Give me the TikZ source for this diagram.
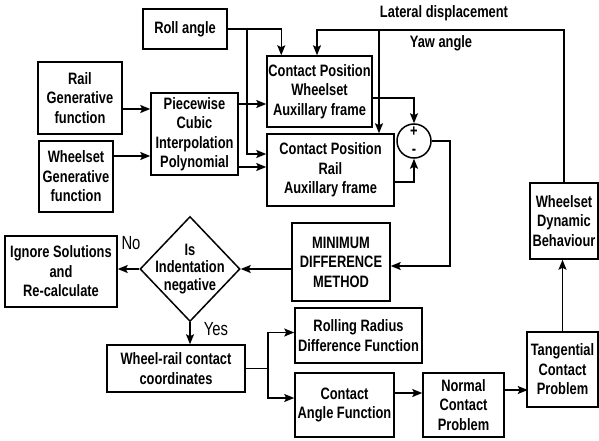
\documentclass[tikz,border=0pt]{standalone}
\usepackage{fontspec}
\setmainfont{Liberation Sans}[FakeStretch=0.78]
\usetikzlibrary{shapes.geometric, arrows.meta, calc}
\newcommand{\boxfont}{\fontsize{16.5}{19.5}\selectfont\bfseries}
\tikzset{
  block/.style={
    rectangle, draw=black, line width=1.5pt,
    inner sep=1pt, align=center, font=\boxfont
  },
  decision/.style={
    diamond, draw=black, line width=1.5pt, inner sep=-14pt,
    minimum width=100pt, minimum height=105pt,
    align=center, font=\fontsize{16.5}{17.5}\selectfont\bfseries
  },
  summer/.style={circle, draw=black, line width=1.5pt, minimum size=34pt, inner sep=0pt},
  signal/.style={font=\boxfont},
  sign/.style={font=\boxfont, inner sep=0pt},
  answer/.style={font=\fontsize{19}{22}\selectfont},
  arrow/.style={line width=1.5pt, -{Stealth[length=10pt, width=8pt, inset=2pt]}, color=black},
}

\begin{document}
\begin{tikzpicture}[x=1pt, y=-1pt]
  \useasboundingbox (0,0) rectangle (599,441);

  \node (roll)     [block, minimum width=84pt,  minimum height=40pt] at (185,29)    {Roll angle};
  \node (railgen)  [block, minimum width=84pt,  minimum height=72pt] at (80,98)     {Rail\\Generative\\function};
  \node (wheelgen) [block, minimum width=74pt,  minimum height=71pt] at (76,176.5)  {Wheelset\\Generative\\function};
  \node (pcip)     [block, minimum width=87pt,  minimum height=82pt] at (194.5,134) {Piecewise\\Cubic\\Interpolation\\Polynomial};
  \node (cpw)      [block, minimum width=105pt, minimum height=71pt] at (319.5,91.5) {Contact Position\\Wheelset\\Auxillary frame};
  \node (cpr)      [block, minimum width=127pt, minimum height=72pt] at (330.5,170) {Contact Position\\Rail\\Auxillary frame};
  \node (sum)      [summer] at (414,141) {};
  \node (plus)     [sign] at ($(sum)+(0,-9)$)  {+};
  \node (minus)    [sign] at ($(sum)+(0,11)$)  {-};
  \node (wdb)      [block, minimum width=68pt,  minimum height=76pt] at (564,221)   {Wheelset\\Dynamic\\Behaviour};
  \node (mdm)      [block, minimum width=98pt,  minimum height=78pt] at (341,262)   {MINIMUM\\DIFFERENCE\\METHOD};
  \node (isneg)    [decision] at (190,269) {Is\\Indentation\\negative};
  \node (ignore)   [block, minimum width=112pt, minimum height=71pt] at (61,271.5)  {Ignore Solutions\\and\\Re-calculate};
  \node (wrcc)     [block, minimum width=138pt, minimum height=47pt] at (176,368.5) {Wheel-rail contact\\coordinates};
  \node (rrdf)     [block, minimum width=127pt, minimum height=55pt] at (358.5,335.5) {Rolling Radius\\Difference Function};
  \node (caf)      [block, minimum width=99pt,  minimum height=64pt] at (344.5,405) {Contact\\Angle Function};
  \node (ncp)      [block, minimum width=81pt,  minimum height=64pt] at (463.5,405) {Normal\\Contact\\Problem};
  \node (tcp)      [block, minimum width=71pt,  minimum height=75pt] at (562.5,369.5) {Tangential\\Contact\\Problem};

  \node (latlbl)   [signal] at (444,13)  {Lateral displacement};
  \node (yawlbl)   [signal] at (441,43)  {Yaw angle};
  \node (nolbl)    [answer] at (131,243) {No};
  \node (yeslbl)   [answer] at (216,329) {Yes};

  \coordinate (rolltap) at (247,29);
  \coordinate (fbturn)  at (317,30);
  \coordinate (lattap)  at (379,30);
  \coordinate (wrtap)   at ($(wrcc.east)+(22,0)$);

  % inputs to the contact position blocks
  \draw [arrow] (roll.east) -| ($(cpw.north west)+(15,0)$);
  \draw [arrow] (rolltap) |- ($(cpr.west)+(0,-16)$);
  \draw [arrow] ($(railgen.east)+(0,11)$) -- ($(pcip.west)+(0,-25)$);
  \draw [arrow] ($(wheelgen.east)+(0,-20.5)$) -- ($(pcip.west)+(0,22)$);
  \draw [arrow] ($(pcip.east)+(0,-30)$) -- ($(cpw.west)+(0,12.5)$);
  \draw [arrow] ($(pcip.east)+(0,33)$) -- ($(cpr.west)+(0,-3)$);
  \draw [arrow] (wdb.north) |- (fbturn) -- (fbturn |- cpw.north);
  \draw [arrow] (lattap) -- (lattap |- cpr.north);

  % difference and solution
  \draw [arrow] ($(cpw.east)+(0,6.5)$) -| (sum.north);
  \draw [arrow] ($(cpr.east)+(0,12)$) -| (sum.south);
  \draw [arrow] (sum.east) -- ++(18,0) |- ($(mdm.east)+(0,4)$);
  \draw [arrow] (mdm.west |- isneg.east) -- (isneg.east);
  \draw [arrow] (isneg.west) -- (ignore.east |- isneg.west);
  \draw [arrow] (isneg.south) -- (isneg.south |- wrcc.north);

  % contact functions and problems
  \draw [arrow] (wrcc.east) -- (wrtap) |- ($(rrdf.west)+(0,-3)$);
  \draw [arrow] (wrtap) |- ($(caf.west)+(0,-7)$);
  \draw [arrow] ($(caf.east)+(0,-12)$) -- ($(ncp.west)+(0,-12)$);
  \draw [arrow] ($(ncp.east)+(0,-15)$) -- ++(23,0);
  \draw [arrow] (tcp.north) -- (tcp.north |- wdb.south);
\end{tikzpicture}
\end{document}
